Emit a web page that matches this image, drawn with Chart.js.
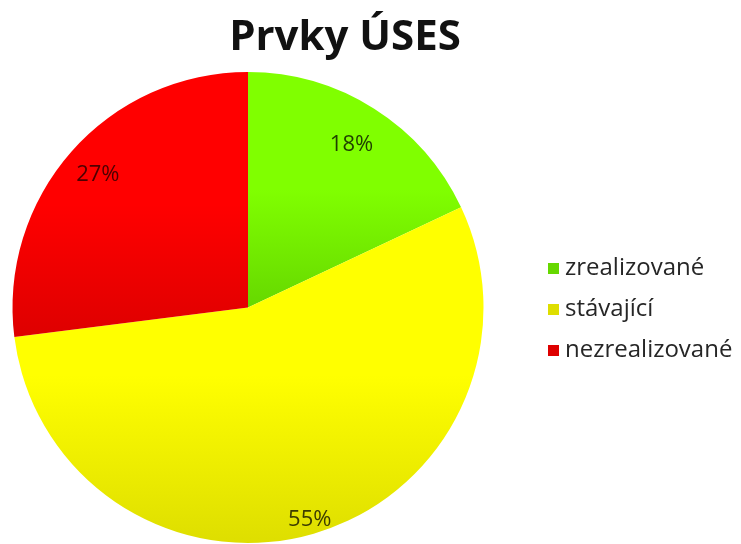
<!DOCTYPE html>
<html>
<head>
<meta charset="utf-8">
<script src="https://cdn.jsdelivr.net/npm/chart.js@4"></script>
<style>
  html, body { margin: 0; padding: 0; background: #fff; }
</style>
</head>
<body>
<canvas id="pie" width="741" height="544"></canvas>
<script>
const titleText = 'Prvky ÚSES';
const categories = ['zrealizované', 'stávající', 'nezrealizované'];
const shares = [18, 55, 27];
const topColors = ['#80ff00', '#ffff00', '#ff0000'];
const bottomColors = ['#66d800', '#dede00', '#de0000'];
const labelInk = ['#1f3f00', '#3d3d00', '#4d0000'];
const labelRadius = [0.82, 0.94, 0.85];

// vertical extent of one slice, used for its own top-to-bottom shading
function sliceYRange(cy, r, a0, a1) {
  let lo = cy, hi = cy;
  const probe = [a0, a1];
  for (let k = -2; k <= 3; k++) {
    const a = Math.PI / 2 + k * Math.PI;
    if (a > a0 && a < a1) probe.push(a);
  }
  probe.forEach(a => {
    const y = cy + Math.sin(a) * r;
    lo = Math.min(lo, y);
    hi = Math.max(hi, y);
  });
  return [lo, hi];
}

const titlePlugin = {
  id: 'sheetTitle',
  afterDraw(chart) {
    const c = chart.ctx;
    c.save();
    c.font = 'bold 42px "Open Sans"';
    c.fillStyle = '#111';
    c.textAlign = 'center';
    c.textBaseline = 'middle';
    c.fillText(titleText, 345, 38);
    c.restore();
  }
};

const percentPlugin = {
  id: 'percentLabels',
  afterDatasetsDraw(chart) {
    const c = chart.ctx;
    const arcs = chart.getDatasetMeta(0).data;
    c.save();
    c.font = '22px "Open Sans"';
    c.textAlign = 'center';
    c.textBaseline = 'middle';
    arcs.forEach((arc, i) => {
      const p = arc.getProps(['x', 'y', 'startAngle', 'endAngle', 'outerRadius'], true);
      const mid = (p.startAngle + p.endAngle) / 2;
      const r = p.outerRadius * labelRadius[i];
      c.fillStyle = labelInk[i];
      c.fillText(shares[i] + '%', p.x + Math.cos(mid) * r, p.y + Math.sin(mid) * r);
    });
    c.restore();
  }
};

const sideLegend = {
  id: 'sideLegend',
  afterDraw(chart) {
    const c = chart.ctx;
    c.save();
    c.font = '24px "Open Sans"';
    c.textBaseline = 'middle';
    categories.forEach((name, i) => {
      const y = 268 + i * 41;
      c.fillStyle = bottomColors[i];
      c.fillRect(548, y - 5, 11, 11);
      c.fillStyle = '#262626';
      c.fillText(name, 565, y);
    });
    c.restore();
  }
};

const total = shares.reduce((a, b) => a + b, 0);

new Chart(document.getElementById('pie'), {
  type: 'pie',
  data: {
    labels: categories,
    datasets: [{
      data: shares,
      borderWidth: 0,
      backgroundColor: (ctx) => {
        const area = ctx.chart.chartArea;
        const i = ctx.dataIndex;
        if (!area) return topColors[i];
        const cy = (area.top + area.bottom) / 2;
        const r = Math.min(area.width, area.height) / 2;
        const before = shares.slice(0, i).reduce((a, b) => a + b, 0);
        const a0 = -Math.PI / 2 + before / total * 2 * Math.PI;
        const a1 = a0 + shares[i] / total * 2 * Math.PI;
        const [y0, y1] = sliceYRange(cy, r, a0, a1);
        const g = ctx.chart.ctx.createLinearGradient(0, y0, 0, y1);
        g.addColorStop(0, topColors[i]);
        g.addColorStop(0.5, topColors[i]);
        g.addColorStop(1, bottomColors[i]);
        return g;
      },
    }],
  },
  options: {
    responsive: false,
    animation: false,
    layout: { padding: { left: 11, right: 256, top: 72, bottom: 1 } },
    plugins: {
      legend: { display: false },
      title: { display: false },
      tooltip: { enabled: false },
    },
  },
  plugins: [titlePlugin, percentPlugin, sideLegend],
});
</script>
</body>
</html>
